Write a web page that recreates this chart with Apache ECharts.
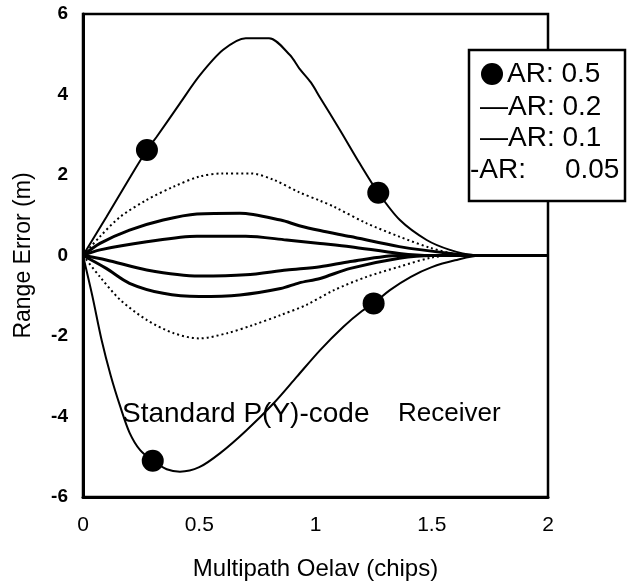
<!DOCTYPE html>
<html>
<head>
<meta charset="utf-8">
<script src="https://cdn.jsdelivr.net/npm/echarts@6/dist/echarts.min.js"></script>
<style>
  html, body { margin: 0; padding: 0; background: #fff; }
  #chart { width: 629px; height: 583px; }
</style>
</head>
<body>
<div id="chart"></div>
<script>
// Range error envelopes vs multipath delay for several amplitude ratios (AR)
const xTicks = [0, 0.5, 1, 1.5, 2];
const yTicks = [-6, -4, -2, 0, 2, 4, 6];

// AR 0.5 (upper / lower envelope)
const ar05UpX = [0, 0.1, 0.2, 0.275, 0.317, 0.417, 0.503, 0.603, 0.70, 0.80, 0.89, 0.93, 0.98, 1.02, 1.105, 1.19, 1.27, 1.363, 1.478, 1.578, 1.68, 1.75, 2];
const ar05UpY = [0, 0.95, 1.92, 2.62, 2.95, 3.78, 4.48, 5.11, 5.40, 5.40, 4.98, 4.65, 4.30, 3.92, 3.12, 2.29, 1.56, 0.88, 0.385, 0.14, 0.01, 0, 0];
const ar05LoX = [0, 0.04, 0.08, 0.12, 0.16, 0.2, 0.245, 0.3, 0.36, 0.417, 0.5, 0.59, 0.7, 0.82, 0.92, 1.02, 1.12, 1.2, 1.25, 1.32, 1.41, 1.5, 1.6, 1.71, 2];
const ar05LoY = [0, -1.0, -2.1, -3.0, -3.75, -4.4, -4.83, -5.10, -5.31, -5.37, -5.26, -4.91, -4.36, -3.67, -3.01, -2.35, -1.77, -1.38, -1.19, -0.86, -0.53, -0.29, -0.12, 0, 0];

// AR 0.2 (dotted)
const ar02UpX = [0, 0.073, 0.16, 0.274, 0.39, 0.5, 0.6, 0.72, 0.82, 0.93, 1.02, 1.08, 1.22, 1.36, 1.5, 1.62, 1.75, 2];
const ar02UpY = [0, 0.47, 0.96, 1.38, 1.71, 1.96, 2.04, 2.04, 1.88, 1.57, 1.36, 1.21, 0.80, 0.47, 0.18, 0.02, 0, 0];
const ar02LoX = [0, 0.073, 0.16, 0.274, 0.39, 0.5, 0.62, 0.73, 0.85, 0.96, 1.08, 1.22, 1.36, 1.5, 1.6, 2];
const ar02LoY = [0, -0.53, -1.1, -1.6, -1.93, -2.06, -1.93, -1.73, -1.48, -1.23, -0.86, -0.53, -0.28, -0.05, 0, 0];

// AR 0.1
const ar01UpX = [0, 0.073, 0.2, 0.345, 0.49, 0.675, 0.85, 0.93, 1.02, 1.15, 1.36, 1.58, 1.7, 2];
const ar01UpY = [0, 0.30, 0.63, 0.88, 1.03, 1.05, 0.88, 0.74, 0.62, 0.47, 0.22, 0.05, 0, 0];
const ar01LoX = [0, 0.1, 0.2, 0.345, 0.5, 0.675, 0.85, 0.93, 1.02, 1.15, 1.36, 1.5, 2];
const ar01LoY = [0, -0.32, -0.69, -0.94, -1.02, -0.98, -0.82, -0.68, -0.57, -0.32, -0.07, 0, 0];

// AR 0.05
const ar005UpX = [0, 0.073, 0.274, 0.49, 0.7, 0.876, 1.02, 1.15, 1.36, 1.5, 2];
const ar005UpY = [0, 0.14, 0.34, 0.48, 0.48, 0.385, 0.30, 0.22, 0.05, 0, 0];
const ar005LoX = [0, 0.1, 0.274, 0.5, 0.7, 0.876, 1.02, 1.15, 1.36, 2];
const ar005LoY = [0, -0.11, -0.36, -0.51, -0.48, -0.36, -0.28, -0.15, 0, 0];

// Circle markers on the AR 0.5 envelopes
const markX = [0.275, 1.27, 1.25, 0.30];
const markY = [2.62, 1.56, -1.19, -5.10];

const legendRows = ['AR: 0.5', '\u2014AR: 0.2', '\u2014AR: 0.1', '-AR:     0.05'];
const noteText = ['Standard P(Y)-code', 'Receiver'];

const FONT = '"Liberation Sans", Arial, Helvetica, sans-serif';
const zip = (xs, ys) => xs.map((x, i) => [x, ys[i]]);

function curve(name, xs, ys, width, type) {
  return {
    name: name,
    type: 'line',
    data: zip(xs, ys),
    showSymbol: false,
    symbol: 'none',
    smooth: 0.3,
    lineStyle: { color: '#000', width: width, type: type || 'solid' },
    silent: true,
    animation: false
  };
}

const chart = echarts.init(document.getElementById('chart'), null, { renderer: 'canvas' });

chart.setOption({
  backgroundColor: '#fff',
  animation: false,
  grid: {
    left: 83, right: 81, top: 14, bottom: 86,
    containLabel: false, outerBoundsMode: 'none',
    show: true, borderColor: '#000', borderWidth: 2.5, backgroundColor: 'transparent'
  },
  xAxis: {
    type: 'value', min: 0, max: 2, interval: 0.5,
    name: 'Multipath Oelav (chips)', nameLocation: 'middle', nameGap: 60,
    nameTextStyle: { fontFamily: FONT, fontSize: 24, color: '#000' },
    axisLine: { show: true, onZero: false, lineStyle: { color: '#000', width: 3 } },
    axisTick: { show: false },
    splitLine: { show: false },
    axisLabel: {
      margin: 18, fontFamily: FONT, fontSize: 21, color: '#000',
      formatter: v => xTicks.includes(v) ? String(v) : ''
    }
  },
  yAxis: {
    type: 'value', min: -6, max: 6, interval: 2,
    name: 'Range Error (m)', nameLocation: 'middle', nameGap: 48,
    nameTextStyle: { fontFamily: FONT, fontSize: 23, color: '#000' },
    axisLine: { show: true, onZero: false, lineStyle: { color: '#000', width: 3 } },
    axisTick: { show: false },
    splitLine: { show: false },
    axisLabel: {
      margin: 15, fontFamily: FONT, fontSize: 19, fontWeight: 'bold', color: '#000',
      formatter: v => yTicks.includes(v) ? String(v) : ''
    }
  },
  series: [
    curve('AR: 0.5', ar05UpX, ar05UpY, 2),
    curve('AR: 0.5', ar05LoX, ar05LoY, 2),
    curve('AR: 0.2', ar02UpX, ar02UpY, 2, [2, 3]),
    curve('AR: 0.2', ar02LoX, ar02LoY, 2, [2, 3]),
    curve('AR: 0.1', ar01UpX, ar01UpY, 3),
    curve('AR: 0.1', ar01LoX, ar01LoY, 3),
    curve('AR: 0.05', ar005UpX, ar005UpY, 3),
    curve('AR: 0.05', ar005LoX, ar005LoY, 3),
    {
      name: 'AR: 0.5 markers',
      type: 'scatter',
      data: zip(markX, markY),
      symbol: 'circle',
      symbolSize: 22,
      itemStyle: { color: '#000', opacity: 1 },
      silent: true,
      z: 5
    }
  ],
  graphic: [
    {
      type: 'group', z: 100,
      children: [
        { type: 'rect', shape: { x: 469, y: 50, width: 156, height: 151 },
          style: { fill: '#fff', stroke: '#000', lineWidth: 2.5 } },
        { type: 'circle', shape: { cx: 492, cy: 74, r: 11 }, style: { fill: '#000' } },
        { type: 'text', x: 507, y: 74,
          style: { text: legendRows[0], font: '28px ' + FONT, fill: '#000', textVerticalAlign: 'middle' } },
        { type: 'text', x: 480, y: 107,
          style: { text: legendRows[1], font: '28px ' + FONT, fill: '#000', textVerticalAlign: 'middle' } },
        { type: 'text', x: 480, y: 138,
          style: { text: legendRows[2], font: '28px ' + FONT, fill: '#000', textVerticalAlign: 'middle' } },
        { type: 'text', x: 470, y: 170,
          style: { text: legendRows[3], font: '28px ' + FONT, fill: '#000', textVerticalAlign: 'middle' } }
      ]
    },
    { type: 'text', z: 50, x: 122, y: 414,
      style: { text: noteText[0], font: '28px ' + FONT, fill: '#000', textVerticalAlign: 'middle' } },
    { type: 'text', z: 50, x: 398, y: 414,
      style: { text: noteText[1], font: '26px ' + FONT, fill: '#000', textVerticalAlign: 'middle' } }
  ]
});
</script>
</body>
</html>
